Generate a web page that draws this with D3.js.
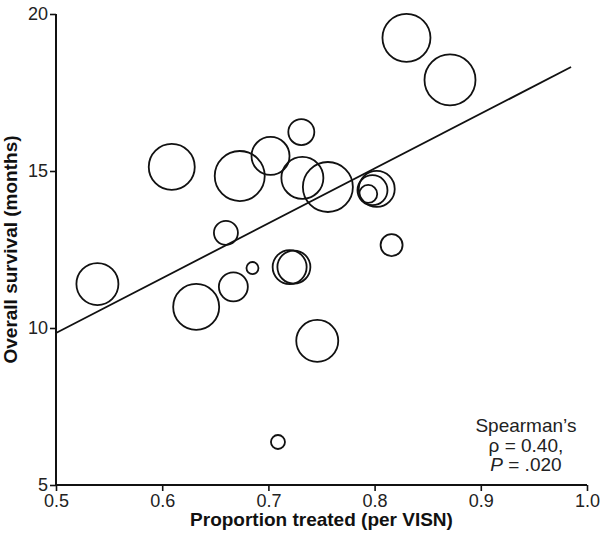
<!DOCTYPE html>
<html>
<head>
<meta charset="utf-8">
<script src="https://cdn.jsdelivr.net/npm/d3@7"></script>
<style>
    body { margin: 0; background: #fff; }
    svg { display: block; font-family: "Liberation Sans", Arial, Helvetica, sans-serif; }
</style>
</head>
<body>
<div id="graph"></div>
<script>
// Proportion treated per VISN (x), overall survival in months (y), patients per VISN (bubble size)
var proportion = [0.830, 0.871, 0.609, 0.673, 0.702, 0.731, 0.732, 0.756, 0.802, 0.798, 0.794,
                  0.660, 0.816, 0.539, 0.632, 0.667, 0.685, 0.720, 0.724, 0.746, 0.709];
var survival   = [19.24, 17.90, 15.13, 14.84, 15.48, 16.24, 14.78, 14.49, 14.43, 14.39, 14.27,
                  13.03, 12.64, 11.40, 10.67, 11.31, 11.91, 11.94, 11.94, 9.59, 6.37];
var patients   = [576, 650, 529, 625, 361, 169, 441, 625, 324, 225, 81,
                  144, 121, 441, 529, 210, 36, 289, 272, 441, 49];

// Fitted line, drawn between these two x values
var fitX = [0.5, 0.985];
var fitY = [9.84, 18.31];

var xTicks = [0.5, 0.6, 0.7, 0.8, 0.9, 1.0];
var yTicks = [5, 10, 15, 20];
var statLines = ["Spearman\u2019s", "\u03c1 = 0.40,", ".020"];

var margin = {top: 14, right: 13, bottom: 48, left: 56},
    width  = 600 - margin.left - margin.right,
    height = 533 - margin.top - margin.bottom;

var svg = d3.select("#graph").append("svg")
    .attr("width", 600)
    .attr("height", 533);

var g = svg.append("g")
    .attr("transform", "translate(" + margin.left + "," + margin.top + ")");

var x = d3.scaleLinear().domain([0.5, 1.0]).range([0, width]);
var y = d3.scaleLinear().domain([5, 20]).range([height, 0]);
var r = d3.scaleSqrt().domain([0, 650]).range([0, 25.5]);

// Axes
var xAxis = g.append("g")
    .attr("transform", "translate(0," + height + ")")
    .call(d3.axisBottom(x).tickValues(xTicks).tickFormat(d3.format(".1f")).tickSize(6).tickPadding(3));
var yAxis = g.append("g")
    .call(d3.axisLeft(y).tickValues(yTicks).tickFormat(d3.format("d")).tickSize(6).tickPadding(2));

[xAxis, yAxis].forEach(function(a) {
    a.select(".domain").attr("stroke", "#111").attr("stroke-width", 2);
    a.selectAll(".tick line").attr("stroke", "#111").attr("stroke-width", 1.6);
    a.selectAll(".tick text")
        .attr("fill", "#222")
        .style("font-size", "18px")
        .style("font-family", "inherit");
});
xAxis.select(".domain").attr("d", "M0,0H" + width);
yAxis.select(".domain").attr("d", "M0,0V" + height);

// Bubbles
var idx = d3.range(proportion.length);
g.selectAll("circle.visn")
    .data(idx)
    .enter().append("circle")
    .attr("class", "visn")
    .attr("cx", function(i) { return x(proportion[i]); })
    .attr("cy", function(i) { return y(survival[i]); })
    .attr("r", function(i) { return r(patients[i]); })
    .style("fill", "none")
    .style("stroke", "#111")
    .style("stroke-width", 1.8);

// Trend line
g.append("line")
    .attr("x1", x(fitX[0]))
    .attr("y1", y(fitY[0]))
    .attr("x2", x(fitX[1]))
    .attr("y2", y(fitY[1]))
    .style("stroke", "#111")
    .style("stroke-width", 1.8);

// Axis titles
svg.append("text")
    .attr("x", margin.left + width / 2)
    .attr("y", 526)
    .attr("text-anchor", "middle")
    .style("font-size", "19px")
    .style("font-weight", "bold")
    .attr("fill", "#111")
    .text("Proportion treated (per VISN)");

svg.append("text")
    .attr("transform", "translate(17," + (margin.top + height / 2) + ") rotate(-90)")
    .attr("text-anchor", "middle")
    .style("font-size", "19px")
    .style("font-weight", "bold")
    .attr("fill", "#111")
    .text("Overall survival (months)");

// Correlation note, one text element per line
var noteX = x(0.9425),
    noteY = y(6.7);
function noteLine(dy) {
    return g.append("text")
        .attr("x", noteX)
        .attr("y", noteY + dy)
        .attr("text-anchor", "middle")
        .style("font-size", "19px")
        .attr("fill", "#222");
}
noteLine(0).text(statLines[0]);
noteLine(20).text(statLines[1]);
var pLine = noteLine(39);
pLine.append("tspan").style("font-style", "italic").text("P");
pLine.append("tspan").text(" = " + statLines[2]);
</script>
</body>
</html>
